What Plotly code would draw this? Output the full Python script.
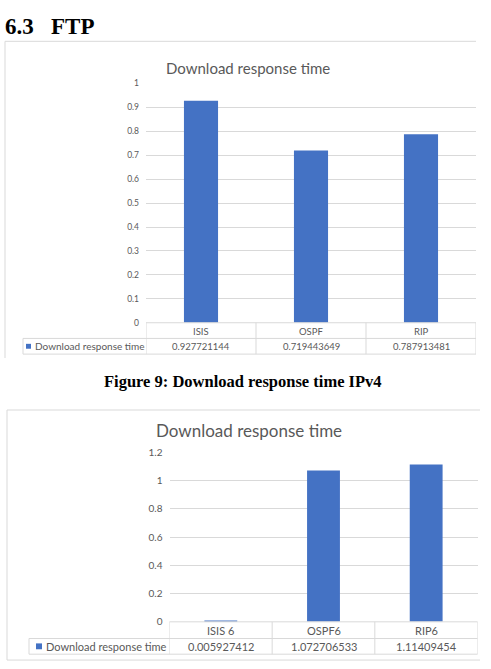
import plotly.graph_objects as go

W, H = 491, 669

heading = "6.3&nbsp;&nbsp;&nbsp;FTP"
caption1 = "Figure 9: Download response time IPv4"
chart_title = "Download response time"
series_name = "Download response time"

cats1 = ["ISIS", "OSPF", "RIP"]
vals1 = [0.927721144, 0.719443649, 0.787913481]
ticks1 = [0, 0.1, 0.2, 0.3, 0.4, 0.5, 0.6, 0.7, 0.8, 0.9, 1]

cats2 = ["ISIS 6", "OSPF6", "RIP6"]
vals2 = [0.005927412, 1.072706533, 1.11409454]
ticks2 = [0, 0.2, 0.4, 0.6, 0.8, 1, 1.2]

BAR = "#4472C4"
GRID = "#d9d9d9"
TXT = "#595959"
FONT = "Lato"


def px(x):
    return x / W


def py(y):
    return 1 - y / H


fig = go.Figure()
fig.add_trace(go.Bar(x=cats1, y=vals1, marker=dict(color=BAR, line=dict(width=0)),
                     xaxis="x", yaxis="y", showlegend=False, width=0.31))
fig.add_trace(go.Bar(x=cats2, y=vals2, marker=dict(color=BAR, line=dict(width=0)),
                     xaxis="x2", yaxis="y2", showlegend=False, width=0.32))

shapes = []
ann = []


def line(x0, y0, x1, y1, color=GRID, xref="paper", w=1):
    shapes.append(dict(type="line", xref=xref, yref="paper",
                       x0=x0, y0=py(y0), x1=x1, y1=py(y1),
                       line=dict(color=color, width=w)))


# ---------- chart 1 ----------
line(px(5), 35, px(476), 35)
line(px(5), 35, px(5), 358)
line(px(146), 322, px(476), 322)
line(px(23), 338, px(476), 338)
line(px(23), 354, px(476), 354)
line(px(23), 338, px(23), 354)
for b in [-0.5, 0.5, 1.5, 2.5]:
    line(b, 322, b, 354, xref="x")
shapes.append(dict(type="rect", xref="paper", yref="paper",
                   x0=px(26), x1=px(31), y0=py(348.5), y1=py(343.5),
                   fillcolor=BAR, line=dict(width=0)))
ann.append(dict(text=series_name, x=px(33), y=py(346), xref="paper", yref="paper",
                xanchor="left", yanchor="middle", showarrow=False,
                font=dict(family=FONT, size=10, color=TXT)))
for i, (c, v) in enumerate(zip(cats1, vals1)):
    ann.append(dict(text=c, x=i, y=py(330.5), xref="x", yref="paper",
                    xanchor="center", yanchor="middle", showarrow=False,
                    font=dict(family=FONT, size=9.5, color=TXT)))
    ann.append(dict(text=str(v), x=i, y=py(346.5), xref="x", yref="paper",
                    xanchor="center", yanchor="middle", showarrow=False,
                    font=dict(family=FONT, size=9.5, color=TXT)))
ann.append(dict(text=chart_title, x=px(248), y=py(62), xref="paper", yref="paper",
                xanchor="center", yanchor="middle", showarrow=False,
                font=dict(family=FONT, size=15, color=TXT)))

# ---------- chart 2 ----------
line(px(7), 411, px(480), 411)
line(px(7), 411, px(7), 666)
line(px(7), 666, px(480), 666)
line(px(169.5), 627, px(477.5), 627)
line(px(29), 644, px(477.5), 644)
line(px(29), 660, px(477.5), 660)
line(px(29), 644, px(29), 660)
for b in [-0.5, 0.5, 1.5, 2.5]:
    line(b, 627, b, 660, xref="x2")
shapes.append(dict(type="rect", xref="paper", yref="paper",
                   x0=px(36), x1=px(42), y0=py(655), y1=py(649),
                   fillcolor=BAR, line=dict(width=0)))
ann.append(dict(text=series_name, x=px(44), y=py(652), xref="paper", yref="paper",
                xanchor="left", yanchor="middle", showarrow=False,
                font=dict(family=FONT, size=11, color=TXT)))
for i, (c, v) in enumerate(zip(cats2, vals2)):
    ann.append(dict(text=c, x=i, y=py(635.5), xref="x2", yref="paper",
                    xanchor="center", yanchor="middle", showarrow=False,
                    font=dict(family=FONT, size=11, color=TXT)))
    ann.append(dict(text=str(v), x=i, y=py(652), xref="x2", yref="paper",
                    xanchor="center", yanchor="middle", showarrow=False,
                    font=dict(family=FONT, size=11, color=TXT)))
ann.append(dict(text=chart_title, x=px(249), y=py(432), xref="paper", yref="paper",
                xanchor="center", yanchor="middle", showarrow=False,
                font=dict(family=FONT, size=17, color=TXT)))

# ---------- page text ----------
ann.append(dict(text="<b>%s</b>" % heading, x=px(3), y=py(20), xref="paper", yref="paper",
                xanchor="left", yanchor="middle", showarrow=False,
                font=dict(family="Liberation Serif", size=23, color="#000000")))
ann.append(dict(text="<b>%s</b>" % caption1, x=px(243), y=py(381.5), xref="paper", yref="paper",
                xanchor="center", yanchor="middle", showarrow=False,
                font=dict(family="Liberation Serif", size=16.5, color="#000000")))

fig.update_layout(
    width=W, height=H, margin=dict(l=0, r=0, t=0, b=0),
    paper_bgcolor="white", plot_bgcolor="white",
    shapes=shapes, annotations=ann, bargap=0.69,
    xaxis=dict(domain=[px(146), px(476)], anchor="y", range=[-0.5, 2.5],
               showticklabels=False, showgrid=False, zeroline=False, showline=False, ticks=""),
    yaxis=dict(domain=[py(322), py(78)], anchor="x", range=[0, 1], tickvals=ticks1,
               ticktext=[("%g" % t) for t in ticks1],
               showgrid=True, gridcolor=GRID, gridwidth=1, zeroline=False, showline=False,
               ticks="", ticklabelstandoff=6,
               tickfont=dict(family=FONT, size=8.5, color=TXT)),
    xaxis2=dict(domain=[px(169.5), px(477.5)], anchor="y2", range=[-0.5, 2.5],
                showticklabels=False, showgrid=False, zeroline=False, showline=False, ticks=""),
    yaxis2=dict(domain=[py(627), py(454.3)], anchor="x2", range=[0, 1.2], tickvals=ticks2,
                ticktext=[("%g" % t) for t in ticks2],
                showgrid=True, gridcolor=GRID, gridwidth=1, zeroline=False, showline=False,
                ticks="", ticklabelstandoff=6,
                tickfont=dict(family=FONT, size=10, color=TXT)),
)

fig.write_html("out.html")
